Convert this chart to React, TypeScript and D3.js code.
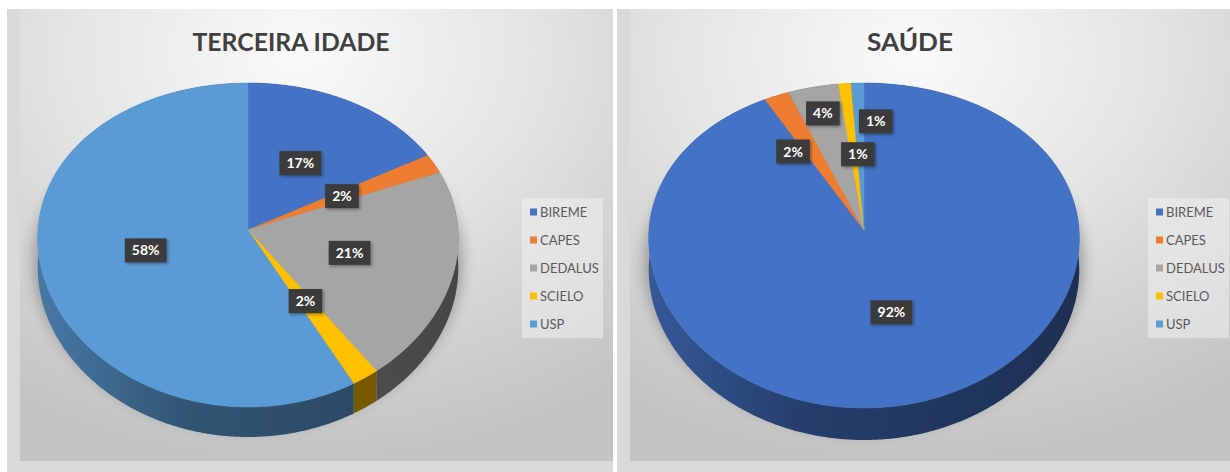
import React from "react";
import * as d3 from "d3";

// ---------- data ----------
const categories = ["BIREME", "CAPES", "DEDALUS", "SCIELO", "USP"];
const terceiraIdadeValues = [17, 2, 21, 2, 58];
const saudeValues = [92, 2, 4, 1, 1];
const sliceColors = ["#4472C4", "#ED7D31", "#A5A5A5", "#FFC000", "#5B9BD5"];
const chartTitles = ["TERCEIRA IDADE", "SAÚDE"];

// ---------- layout ----------
const W = 1230;
const H = 472;
const panels = [
  {
    values: terceiraIdadeValues,
    title: chartTitles[0],
    frameX: 7, frameW: 606, innerX: 20, innerW: 593,
    titleX: 291, titleW: 197,
    cx: 248, cy: 230, R: 210, top: 147, bottom: 177, depth: 30,
    legendX: 522,
    labelAdj: [[0.5, 0], [0.5, 0], [0.5, 0], [0.5, 0], [0.5, 0]],
  },
  {
    values: saudeValues,
    title: chartTitles[1],
    frameX: 617, frameW: 613, innerX: 630, innerW: 600,
    titleX: 910, titleW: 86,
    cx: 864, cy: 230, R: 215, top: 147, bottom: 178, depth: 32,
    legendX: 1148,
    labelAdj: [[0.5, 0], [0.61, -8.5], [0.8, 0], [0.49, 2], [0.72, 6.3]],
  },
];

const frameTop = 9;
const innerBottom = 461;
const legendTop = 198;
const legendH = 140;
const legendW = 81;
const legendStep = 28;

let measureCtx: CanvasRenderingContext2D | null = null;
function textWidth(t: string, font: string) {
  if (!measureCtx) measureCtx = document.createElement("canvas").getContext("2d");
  if (!measureCtx) return t.length * 8;
  measureCtx.font = font;
  return measureCtx.measureText(t).width;
}

function makeProj(p: any) {
  const a = (p.top + p.bottom) / 2;
  const b = (p.bottom - p.top) / 2;
  return (th: number, r: number, dz: number): [number, number] => {
    const u = Math.sin(th) * r;
    const v = -Math.cos(th) * r;
    return [p.cx + u * p.R * (1 + 0.05 * v), p.cy + a * v + b * v * v + dz];
  };
}

const line = d3.line<[number, number]>().x((d) => d[0]).y((d) => d[1]);

function arcPts(proj: any, a0: number, a1: number, dz: number) {
  const n = Math.max(4, Math.ceil((a1 - a0) / 0.01));
  return d3.range(n + 1).map((i) => proj(a0 + ((a1 - a0) * i) / n, 1, dz));
}

function Panel({ p, pi }: { p: any; pi: number }) {
  const proj = makeProj(p);
  const pie = d3.pie<number>().sort(null).value((d) => d);
  const arcs = pie(p.values);
  const total = d3.sum(p.values as number[]);
  const shade = (c: string, k: number) => d3.color(c)!.darker(k).formatHex();

  const shadowPts = arcPts(proj, 0, 2 * Math.PI, p.depth * 0.75).map(
    ([x, y]: [number, number]) => [p.cx + (x - p.cx) * 1.02, y] as [number, number]
  );

  return (
    <g>
      <defs>
        <radialGradient id={`bg${pi}`} cx="0.47" cy="0.1" r="0.9">
          <stop offset="0" stopColor="#fafafa" />
          <stop offset="0.45" stopColor="#e4e4e4" />
          <stop offset="0.7" stopColor="#d4d4d4" />
          <stop offset="1" stopColor="#c3c3c3" />
        </radialGradient>
        {arcs.map((a, i) => (
          <linearGradient
            key={i}
            id={`side${pi}-${i}`}
            gradientUnits="userSpaceOnUse"
            x1={p.cx - p.R}
            x2={p.cx + p.R}
            y1={0}
            y2={0}
          >
            <stop offset="0" stopColor={shade(sliceColors[i], 0.7)} />
            <stop offset="0.35" stopColor={shade(sliceColors[i], 1.7)} />
            <stop offset="1" stopColor={shade(sliceColors[i], 2.4)} />
          </linearGradient>
        ))}
      </defs>
      <rect x={p.frameX} y={frameTop} width={p.frameW} height={H - frameTop} fill="#d9d9d9" />
      <rect x={p.innerX} y={frameTop} width={p.innerW} height={innerBottom - frameTop} fill={`url(#bg${pi})`} />

      <text
        x={p.titleX}
        y={51}
        textAnchor="middle"
        fontFamily="Lato, 'Open Sans', sans-serif"
        fontWeight="bold"
        fontSize={25}
        fill="#404040"
        textLength={p.titleW}
        lengthAdjust="spacingAndGlyphs"
      >
        {p.title}
      </text>

      {/* shadow */}
      <path d={line(shadowPts)! + "Z"} fill="#000" opacity={0.28} filter="url(#blur)" />

      {/* side walls */}
      {arcs.map((a, i) => {
        const up = arcPts(proj, a.startAngle, a.endAngle, 0);
        const down = arcPts(proj, a.startAngle, a.endAngle, p.depth).reverse();
        return <path key={"s" + i} d={line([...up, ...down])! + "Z"} fill={`url(#side${pi}-${i})`} />;
      })}

      {/* top faces */}
      {arcs.map((a, i) => {
        const pts = [proj(0, 0, 0), ...arcPts(proj, a.startAngle, a.endAngle, 0)];
        return (
          <path
            key={"t" + i}
            d={line(pts)! + "Z"}
            fill={sliceColors[i]}
            stroke={sliceColors[i]}
            strokeWidth={0.5}
          />
        );
      })}

      {/* data labels */}
      {arcs.map((a, i) => {
        const [rf, off] = p.labelAdj[i];
        const mid = (a.startAngle + a.endAngle) / 2 + (off * Math.PI) / 180;
        const [x, y] = proj(mid, rf, 0);
        const txt = Math.round(((a.value as number) / total) * 100) + "%";
        const w = textWidth(txt, "bold 14px Lato") + 14;
        const h = 24;
        return (
          <g key={"l" + i}>
            <rect x={x - w / 2} y={y - h / 2} width={w} height={h} fill="#3a3a3a" filter="url(#drop)" />
            <text
              x={x}
              y={y + 5}
              textAnchor="middle"
              fontFamily="Lato, sans-serif"
              fontWeight="bold"
              fontSize={14}
              fill="#ffffff"
            >
              {txt}
            </text>
          </g>
        );
      })}

      {/* legend */}
      <rect x={p.legendX} y={legendTop} width={legendW} height={legendH} fill="#f0f0f0" opacity={0.55} />
      {categories.map((c, i) => {
        const yc = legendTop + 14 + i * legendStep;
        return (
          <g key={"g" + i}>
            <rect x={p.legendX + 8} y={yc - 3.5} width={7} height={7} fill={sliceColors[i]} />
            <text
              x={p.legendX + 18}
              y={yc + 4.5}
              fontFamily="Lato, sans-serif"
              fontSize={13}
              fill="#595959"
            >
              {c}
            </text>
          </g>
        );
      })}
    </g>
  );
}

export default function App() {
  return (
    <svg
      width={W}
      height={H}
      viewBox={`0 0 ${W} ${H}`}
      style={{ position: "absolute", left: 0, top: 0, display: "block", background: "#ffffff" }}
    >
      <defs>
        <filter id="blur" x="-20%" y="-20%" width="140%" height="140%">
          <feGaussianBlur stdDeviation="7" />
        </filter>
        <filter id="drop" x="-30%" y="-30%" width="160%" height="160%">
          <feDropShadow dx="1.5" dy="1.5" stdDeviation="1.5" floodColor="#000" floodOpacity="0.35" />
        </filter>
      </defs>
      <rect x={0} y={0} width={W} height={H} fill="#ffffff" />
      {panels.map((p, i) => (
        <Panel key={i} p={p} pi={i} />
      ))}
    </svg>
  );
}
